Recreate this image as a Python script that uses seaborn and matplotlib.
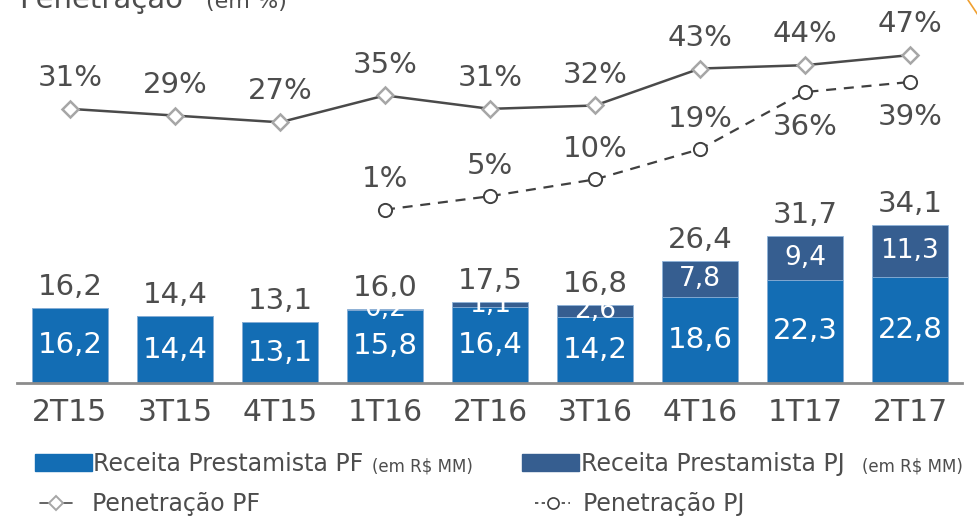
import numpy as np
import matplotlib
matplotlib.use("Agg")
import matplotlib.pyplot as plt
from matplotlib.lines import Line2D
from matplotlib.patches import Rectangle
import seaborn as sns

quarters = ["2T15", "3T15", "4T15", "1T16", "2T16", "3T16", "4T16", "1T17", "2T17"]
receita_pf = [16.2, 14.4, 13.1, 15.8, 16.4, 14.2, 18.6, 22.3, 22.8]
receita_pj = [0, 0, 0, 0.2, 1.1, 2.6, 7.8, 9.4, 11.3]
total_labels = ["16,2", "14,4", "13,1", "16,0", "17,5", "16,8", "26,4", "31,7", "34,1"]
pen_pf = [31, 29, 27, 35, 31, 32, 43, 44, 47]
pen_pj = [np.nan, np.nan, np.nan, 1, 5, 10, 19, 36, 39]

pf_color = "#136db4"
pj_color = "#365e90"
txt = "#4d4d4d"

sns.set_style("white")
plt.rcParams["font.family"] = ["DejaVu Sans"]

W, H = 978, 518
fig = plt.figure(figsize=(W / 100, H / 100), dpi=100)
ax = fig.add_axes([17.5 / W, 1 - 383 / H, 945 / W, 383 / H])

totals = np.array(receita_pf) + np.array(receita_pj)
x = np.arange(len(quarters))

# stacked bars: totals (PJ colour) behind, PF in front
sns.barplot(x=quarters, y=totals, color=pj_color, saturation=1, width=0.73,
            edgecolor="#8fb3d9", linewidth=0.6, ax=ax)
sns.barplot(x=quarters, y=receita_pf, color=pf_color, saturation=1, width=0.73,
            edgecolor="#8fb3d9", linewidth=0.6, ax=ax)

ax.set_xlim(-0.5, 8.5)
ax.set_ylim(0, 82.7)
ax.set_ylabel("")
ax.set_yticks([])
for s in ["top", "left", "right"]:
    ax.spines[s].set_visible(False)
ax.spines["bottom"].set_color("#8c8c8c")
ax.spines["bottom"].set_linewidth(2)
ax.tick_params(axis="x", length=0, pad=11, labelsize=21.5, labelcolor=txt)

for i in x:
    ax.text(i, totals[i] + 2.8, total_labels[i], ha="center", va="baseline",
            fontsize=21, color=txt)
    ax.text(i, receita_pf[i] / 2, f"{receita_pf[i]:.1f}".replace(".", ","),
            ha="center", va="center", fontsize=21, color="white")
    if receita_pj[i] > 0:
        ax.text(i, receita_pf[i] + receita_pj[i] / 2,
                f"{receita_pj[i]:.1f}".replace(".", ","),
                ha="center", va="center", fontsize=19, color="white")

# penetration lines on secondary scale
ax2 = ax.twinx()
sns.lineplot(x=x, y=pen_pf, ax=ax2, color="#4a4a4a", linewidth=1.8,
             marker="D", markersize=8, markerfacecolor="white",
             markeredgecolor="#a6a6a6", markeredgewidth=1.8)
sns.lineplot(x=x, y=pen_pj, ax=ax2, color="#404040", linewidth=1.6,
             linestyle=(0, (4.5, 3.5)), marker="o", markersize=9.5,
             markerfacecolor="white", markeredgecolor="#404040",
             markeredgewidth=1.4)
ax2.set_ylim(-50.6, 63.4)
ax2.set_xlim(-0.5, 8.5)
ax2.axis("off")

for i in x:
    ax2.text(i, pen_pf[i] + 6.8, f"{pen_pf[i]}%", ha="center", va="baseline",
             fontsize=21, color=txt)
    if not np.isnan(pen_pj[i]):
        if pen_pj[i] < 30:
            ax2.text(i, pen_pj[i] + 6.6, f"{int(pen_pj[i])}%", ha="center",
                     va="baseline", fontsize=21, color=txt)
        else:
            ax2.text(i, pen_pj[i] - 6.3, f"{int(pen_pj[i])}%", ha="center",
                     va="top", fontsize=21, color=txt)

# title, partly cut at the top
fig.text(19 / W, 1 - 8 / H, "Penetração¹", fontsize=21, color=txt, va="baseline")
fig.text(206 / W, 1 - 8 / H, "(em %)", fontsize=16, color=txt, va="baseline")

# orange accent at top right
fig.add_artist(Line2D([968 / W, 980 / W], [1, 1 - 18 / H], color="#f0a030",
                      linewidth=1.2, transform=fig.transFigure))

# legend drawn by hand
def fx(px):
    return px / W

def fy(py):
    return 1 - py / H

fig.add_artist(Rectangle((fx(35), fy(471)), 57 / W, 17 / H, color=pf_color,
                         transform=fig.transFigure))
fig.text(fx(93), fy(471), "Receita Prestamista PF", fontsize=17, color=txt, va="baseline")
fig.text(fx(372), fy(471), "(em R$ MM)", fontsize=12, color=txt, va="baseline")
fig.add_artist(Rectangle((fx(522), fy(471)), 57 / W, 17 / H, color=pj_color,
                         transform=fig.transFigure))
fig.text(fx(581), fy(471), "Receita Prestamista PJ", fontsize=17, color=txt, va="baseline")
fig.text(fx(862), fy(471), "(em R$ MM)", fontsize=12, color=txt, va="baseline")

fig.add_artist(Line2D([fx(40), fx(72)], [fy(503), fy(503)], color="#4a4a4a",
                      linewidth=1.2, transform=fig.transFigure))
fig.add_artist(Line2D([fx(56)], [fy(503)], marker="D", markersize=7,
                      markerfacecolor="white", markeredgecolor="#a6a6a6",
                      markeredgewidth=1.4, transform=fig.transFigure))
fig.text(fx(92), fy(511), "Penetração PF", fontsize=17, color=txt, va="baseline")
fig.add_artist(Line2D([fx(535), fx(570)], [fy(503), fy(503)], color="#404040",
                      linewidth=1.2, linestyle=(0, (2, 2)), transform=fig.transFigure))
fig.add_artist(Line2D([fx(553)], [fy(503)], marker="o", markersize=8,
                      markerfacecolor="white", markeredgecolor="#404040",
                      markeredgewidth=1.2, transform=fig.transFigure))
fig.text(fx(583), fy(511), "Penetração PJ", fontsize=17, color=txt, va="baseline")

fig.savefig("out.png", dpi=100)
